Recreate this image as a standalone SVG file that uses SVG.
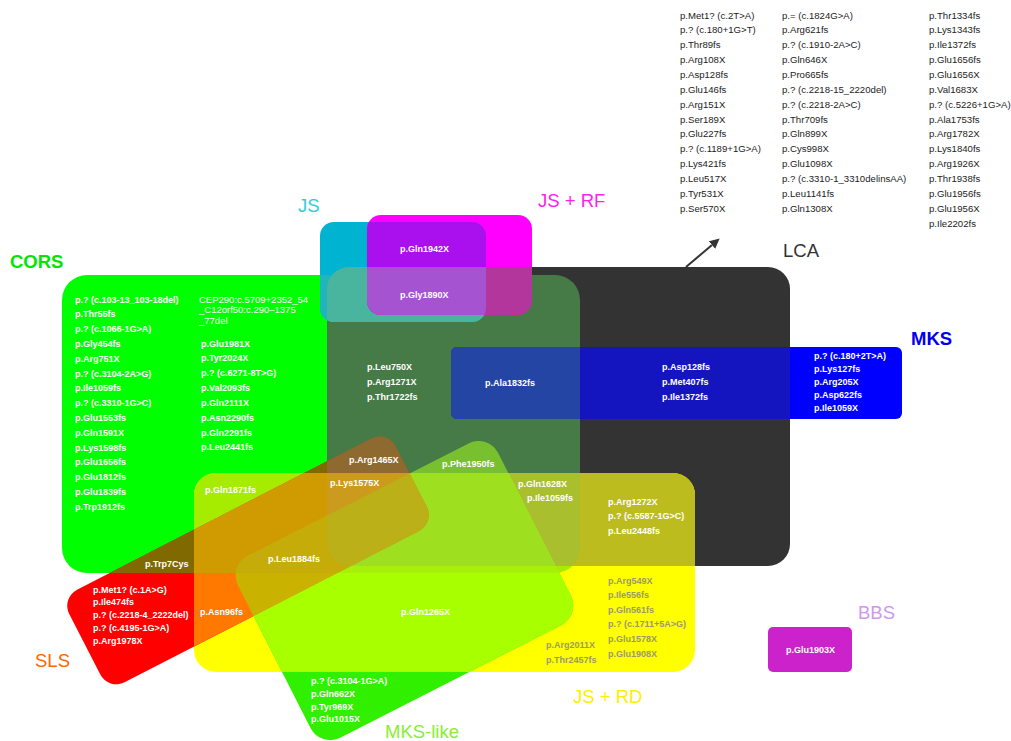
<svg xmlns="http://www.w3.org/2000/svg" xmlns:xlink="http://www.w3.org/1999/xlink" width="1011" height="741" viewBox="0 0 1011 741">
<style>
text{font-family:"Liberation Sans",Arial,Helvetica,sans-serif}
.t{font-size:9.6px;fill:#222}
.w{font-size:9px;font-weight:bold;fill:#fff}
.wr{font-size:9.5px;fill:#fff}
.g{font-size:9px;font-weight:bold;fill:#9a9a66}
.h{font-size:18.5px}
.b{font-weight:bold}
</style>
<defs>
<rect id="sC" x="62" y="275" width="518" height="298" rx="25"/>
<rect id="sL" x="327" y="267" width="463" height="299" rx="22"/>
<rect id="sJ" x="320" y="222" width="166" height="100" rx="14"/>
<rect id="sF" x="367" y="215" width="165" height="100" rx="14"/>
<rect id="sM" x="451" y="347" width="451" height="72" rx="6"/>
<rect id="sY" x="194" y="473" width="501" height="199" rx="22"/>
<rect id="sK" x="0" y="0" width="292" height="204" rx="22" transform="translate(228,566) rotate(-27)"/>
<rect id="sS" x="0" y="0" width="367" height="104" rx="18" transform="translate(61,598) rotate(-27.2)"/>
<clipPath id="cC"><use href="#sC"/></clipPath>
<clipPath id="cL"><use href="#sL"/></clipPath>
<clipPath id="cJ"><use href="#sJ"/></clipPath>
<clipPath id="cF"><use href="#sF"/></clipPath>
<clipPath id="cY"><use href="#sY"/></clipPath>
<clipPath id="cK"><use href="#sK"/></clipPath>
<marker id="arr" viewBox="0 0 10 10" refX="0" refY="5" markerWidth="5" markerHeight="5" orient="auto" markerUnits="strokeWidth">
<path d="M0,0 L10,5 L0,10 z" fill="#333"/>
</marker>
</defs>
<rect width="1011" height="741" fill="#fff"/>

<g id="set-cors"><use href="#sC" fill="#00ff00"/><text class="h b" x="10" y="268" fill="#00e600">CORS</text></g>
<g id="set-lca"><use href="#sL" fill="#333333"/><text class="h" x="783" y="257" fill="#333">LCA</text></g>
<g id="set-js-rd"><use href="#sY" fill="#ffff00"/><text class="h" x="573" y="703" fill="#ffee00">JS + RD</text></g>
<g id="set-mks-like"><use href="#sK" fill="#30f000"/><text class="h" x="385" y="738" fill="#88ee33">MKS-like</text></g>
<g id="set-sls"><use href="#sS" fill="#ff0000"/><text class="h" x="35" y="667" fill="#ff6600">SLS</text></g>
<g id="set-js"><use href="#sJ" fill="#00b3d1"/><text class="h" x="298" y="212" fill="#33ccdd">JS</text></g>
<g id="set-js-rf"><use href="#sF" fill="#ff00ff"/><text class="h" x="538" y="207" fill="#ff22ee">JS + RF</text></g>
<g id="set-mks"><use href="#sM" fill="#0000ff"/><text class="h b" x="911" y="345" fill="#0000ee">MKS</text></g>
<g id="set-bbs"><rect x="768" y="627" width="84" height="45" rx="5" fill="#cc22cc"/><text class="h" x="858" y="619" fill="#cc99ee">BBS</text></g>

<g id="overlaps">
<g clip-path="url(#cL)"><use href="#sC" fill="#467a46"/></g>
<g clip-path="url(#cC)"><use href="#sJ" fill="#20b4bc"/></g>
<g clip-path="url(#cL)"><use href="#sJ" fill="#4ab59e"/></g>
<g clip-path="url(#cJ)"><use href="#sF" fill="#aa10ee"/></g>
<g clip-path="url(#cL)"><use href="#sF" fill="#b3369c"/></g>
<g clip-path="url(#cL)"><use href="#sM" fill="#1515c0"/></g>
<g clip-path="url(#cC)"><use href="#sY" fill="#a6ec00"/></g>
<g clip-path="url(#cL)"><use href="#sY" fill="#bcbc1e"/></g>
<g clip-path="url(#cC)"><use href="#sK" fill="#78c030"/></g>
<g clip-path="url(#cY)"><use href="#sK" fill="#a8ff00"/></g>
<g clip-path="url(#cC)"><use href="#sS" fill="#806a00"/></g>
<g clip-path="url(#cY)"><use href="#sS" fill="#ff7800"/></g>
<g clip-path="url(#cL)"><g clip-path="url(#cJ)"><use href="#sF" fill="#a553d0"/></g></g>
<g clip-path="url(#cL)"><g clip-path="url(#cC)"><use href="#sM" fill="#2545a5"/></g></g>
<g clip-path="url(#cL)"><g clip-path="url(#cC)"><use href="#sY" fill="#a9bf2e"/></g></g>
<g clip-path="url(#cY)"><g clip-path="url(#cC)"><use href="#sK" fill="#a6f00a"/></g></g>
<g clip-path="url(#cY)"><g clip-path="url(#cC)"><use href="#sS" fill="#cf9b00"/></g></g>
<g clip-path="url(#cY)"><g clip-path="url(#cK)"><use href="#sS" fill="#c9b200"/></g></g>
<g clip-path="url(#cL)"><g clip-path="url(#cC)"><use href="#sS" fill="#8f6a30"/></g></g>
<g clip-path="url(#cL)"><g clip-path="url(#cC)"><g clip-path="url(#cY)"><use href="#sK" fill="#9ee020"/></g></g></g>
<g clip-path="url(#cC)"><g clip-path="url(#cY)"><g clip-path="url(#cK)"><use href="#sS" fill="#c6ac08"/></g></g></g>
<g clip-path="url(#cL)"><g clip-path="url(#cC)"><g clip-path="url(#cY)"><use href="#sS" fill="#cc9a1c"/></g></g></g>
<g clip-path="url(#cL)"><g clip-path="url(#cC)"><g clip-path="url(#cY)"><g clip-path="url(#cK)"><use href="#sS" fill="#bbb018"/></g></g></g></g>
</g>

<g id="connectors">
<line x1="686" y1="267" x2="712" y2="245" stroke="#333" stroke-width="2" marker-end="url(#arr)"/>
</g>

<g id="list-lca-only">
<text class="t"><tspan x="680" y="18.5">p.Met1? (c.2T&gt;A)</tspan><tspan x="680" dy="14.86">p.? (c.180+1G&gt;T)</tspan><tspan x="680" dy="14.86">p.Thr89fs</tspan><tspan x="680" dy="14.86">p.Arg108X</tspan><tspan x="680" dy="14.86">p.Asp128fs</tspan><tspan x="680" dy="14.86">p.Glu146fs</tspan><tspan x="680" dy="14.86">p.Arg151X</tspan><tspan x="680" dy="14.86">p.Ser189X</tspan><tspan x="680" dy="14.86">p.Glu227fs</tspan><tspan x="680" dy="14.86">p.? (c.1189+1G&gt;A)</tspan><tspan x="680" dy="14.86">p.Lys421fs</tspan><tspan x="680" dy="14.86">p.Leu517X</tspan><tspan x="680" dy="14.86">p.Tyr531X</tspan><tspan x="680" dy="14.86">p.Ser570X</tspan></text>
<text class="t"><tspan x="782" y="18.5">p.= (c.1824G&gt;A)</tspan><tspan x="782" dy="14.86">p.Arg621fs</tspan><tspan x="782" dy="14.86">p.? (c.1910-2A&gt;C)</tspan><tspan x="782" dy="14.86">p.Gln646X</tspan><tspan x="782" dy="14.86">p.Pro665fs</tspan><tspan x="782" dy="14.86">p.? (c.2218-15_2220del)</tspan><tspan x="782" dy="14.86">p.? (c.2218-2A&gt;C)</tspan><tspan x="782" dy="14.86">p.Thr709fs</tspan><tspan x="782" dy="14.86">p.Gln899X</tspan><tspan x="782" dy="14.86">p.Cys998X</tspan><tspan x="782" dy="14.86">p.Glu1098X</tspan><tspan x="782" dy="14.86">p.? (c.3310-1_3310delinsAA)</tspan><tspan x="782" dy="14.86">p.Leu1141fs</tspan><tspan x="782" dy="14.86">p.Gln1308X</tspan></text>
<text class="t"><tspan x="929" y="18.5">p.Thr1334fs</tspan><tspan x="929" dy="14.86">p.Lys1343fs</tspan><tspan x="929" dy="14.86">p.Ile1372fs</tspan><tspan x="929" dy="14.86">p.Glu1656fs</tspan><tspan x="929" dy="14.86">p.Glu1656X</tspan><tspan x="929" dy="14.86">p.Val1683X</tspan><tspan x="929" dy="14.86">p.? (c.5226+1G&gt;A)</tspan><tspan x="929" dy="14.86">p.Ala1753fs</tspan><tspan x="929" dy="14.86">p.Arg1782X</tspan><tspan x="929" dy="14.86">p.Lys1840fs</tspan><tspan x="929" dy="14.86">p.Arg1926X</tspan><tspan x="929" dy="14.86">p.Thr1938fs</tspan><tspan x="929" dy="14.86">p.Glu1956fs</tspan><tspan x="929" dy="14.86">p.Glu1956X</tspan><tspan x="929" dy="14.86">p.Ile2202fs</tspan></text>
</g>

<g id="list-cors">
<text class="w"><tspan x="75" y="302.5">p.? (c.103-13_103-18del)</tspan><tspan x="75" dy="14.8">p.Thr55fs</tspan><tspan x="75" dy="14.8">p.? (c.1066-1G&gt;A)</tspan><tspan x="75" dy="14.8">p.Gly454fs</tspan><tspan x="75" dy="14.8">p.Arg751X</tspan><tspan x="75" dy="14.8">p.? (c.3104-2A&gt;G)</tspan><tspan x="75" dy="14.8">p.Ile1059fs</tspan><tspan x="75" dy="14.8">p.? (c.3310-1G&gt;C)</tspan><tspan x="75" dy="14.8">p.Glu1553fs</tspan><tspan x="75" dy="14.8">p.Gln1591X</tspan><tspan x="75" dy="14.8">p.Lys1598fs</tspan><tspan x="75" dy="14.8">p.Glu1656fs</tspan><tspan x="75" dy="14.8">p.Glu1812fs</tspan><tspan x="75" dy="14.8">p.Glu1839fs</tspan><tspan x="75" dy="14.8">p.Trp1912fs</tspan></text>
<text class="wr"><tspan x="199" y="302.5">CEP290:c.5709+2352_54</tspan><tspan x="199" dy="10.8">_C12orf50:c.290–1375</tspan><tspan x="199" dy="10.3">_77del</tspan></text>
<text class="w"><tspan x="201" y="346.5">p.Glu1981X</tspan><tspan x="201" dy="14.85">p.Tyr2024X</tspan><tspan x="201" dy="14.85">p.? (c.6271-8T&gt;G)</tspan><tspan x="201" dy="14.85">p.Val2093fs</tspan><tspan x="201" dy="14.85">p.Gln2111X</tspan><tspan x="201" dy="14.85">p.Asn2290fs</tspan><tspan x="201" dy="14.85">p.Gln2291fs</tspan><tspan x="201" dy="14.85">p.Leu2441fs</tspan></text>
</g>

<g id="list-js"><text class="w" x="400" y="251.5">p.Gln1942X</text><text class="w" x="400" y="297.5">p.Gly1890X</text></g>

<g id="list-cors-lca">
<text class="w"><tspan x="367" y="370">p.Leu750X</tspan><tspan x="367" dy="14.8">p.Arg1271X</tspan><tspan x="367" dy="14.8">p.Thr1722fs</tspan></text>
<text class="w" x="485" y="386">p.Ala1832fs</text>
</g>

<g id="list-mks">
<text class="w"><tspan x="662" y="370">p.Asp128fs</tspan><tspan x="662" dy="15">p.Met407fs</tspan><tspan x="662" dy="15">p.Ile1372fs</tspan></text>
<text class="w"><tspan x="814" y="358.5">p.? (c.180+2T&gt;A)</tspan><tspan x="814" dy="13">p.Lys127fs</tspan><tspan x="814" dy="13">p.Arg205X</tspan><tspan x="814" dy="13">p.Asp622fs</tspan><tspan x="814" dy="13">p.Ile1059X</tspan></text>
</g>

<g id="list-overlaps">
<text class="w" x="349" y="462.5">p.Arg1465X</text>
<text class="w" x="442" y="466.5">p.Phe1950fs</text>
<text class="w" x="330" y="485.5">p.Lys1575X</text>
<text class="w" x="518" y="486.5">p.Gln1628X</text>
<text class="w" x="527" y="500.5">p.Ile1059fs</text>
<text class="w"><tspan x="608" y="504.5">p.Arg1272X</tspan><tspan x="608" dy="14.5">p.? (c.5587-1G&gt;C)</tspan><tspan x="608" dy="14.5">p.Leu2448fs</tspan></text>
<text class="w" x="205" y="492.5">p.Gln1871fs</text>
<text class="w" x="145" y="566.5">p.Trp7Cys</text>
<text class="w" x="268" y="561.5">p.Leu1884fs</text>
<text class="w" x="200" y="614.5">p.Asn96fs</text>
<text class="w" x="401" y="614.5">p.Gln1265X</text>
</g>

<g id="list-sls">
<text class="w"><tspan x="93" y="592.5">p.Met1? (c.1A&gt;G)</tspan><tspan x="93" dy="12.8">p.Ile474fs</tspan><tspan x="93" dy="12.8">p.? (c.2218-4_2222del)</tspan><tspan x="93" dy="12.8">p.? (c.4195-1G&gt;A)</tspan><tspan x="93" dy="12.8">p.Arg1978X</tspan></text>
</g>

<g id="list-js-rd">
<text class="g"><tspan x="608" y="583.5">p.Arg549X</tspan><tspan x="608" dy="14.6">p.Ile556fs</tspan><tspan x="608" dy="14.6">p.Gln561fs</tspan><tspan x="608" dy="14.6">p.? (c.1711+5A&gt;G)</tspan><tspan x="608" dy="14.6">p.Glu1578X</tspan><tspan x="608" dy="14.6">p.Glu1908X</tspan></text>
<text class="g"><tspan x="546" y="647.5">p.Arg2011X</tspan><tspan x="546" dy="15.5">p.Thr2457fs</tspan></text>
</g>

<g id="list-mks-like">
<text class="w"><tspan x="311" y="684">p.? (c.3104-1G&gt;A)</tspan><tspan x="311" dy="12.8">p.Gln662X</tspan><tspan x="311" dy="12.8">p.Tyr969X</tspan><tspan x="311" dy="12.8">p.Glu1015X</tspan></text>
</g>

<g id="list-bbs"><text class="w" x="786" y="653">p.Glu1903X</text></g>
</svg>
